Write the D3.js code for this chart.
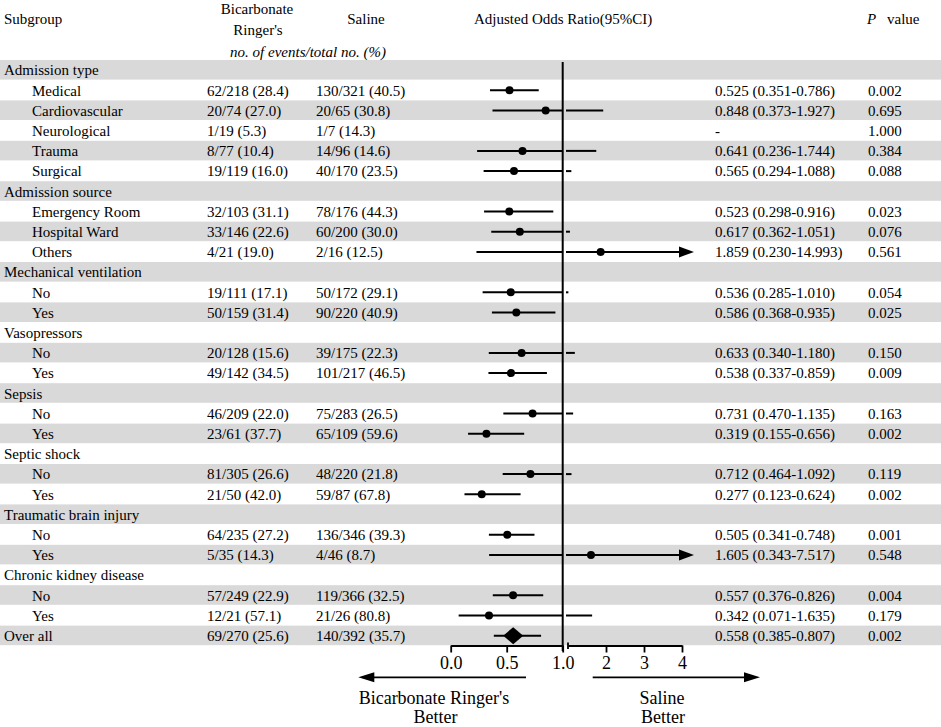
<!DOCTYPE html>
<html>
<head>
<meta charset="utf-8">
<script src="https://cdn.jsdelivr.net/npm/d3@7"></script>
<style>
  body { margin: 0; background: #fff; }
  svg text { font-family: "Liberation Serif", "Times New Roman", serif; fill: #000; }
</style>
</head>
<body>
<div id="chart"></div>
<script>
// rows of the forest plot, top to bottom
var subgroups = ["Admission type","Medical","Cardiovascular","Neurological","Trauma","Surgical",
  "Admission source","Emergency Room","Hospital Ward","Others",
  "Mechanical ventilation","No","Yes",
  "Vasopressors","No","Yes",
  "Sepsis","No","Yes",
  "Septic shock","No","Yes",
  "Traumatic brain injury","No","Yes",
  "Chronic kidney disease","No","Yes",
  "Over all"];
var isGroup = [1,0,0,0,0,0, 1,0,0,0, 1,0,0, 1,0,0, 1,0,0, 1,0,0, 1,0,0, 1,0,0, 1];
var ringerCounts = ["","62/218 (28.4)","20/74 (27.0)","1/19 (5.3)","8/77 (10.4)","19/119 (16.0)",
  "","32/103 (31.1)","33/146 (22.6)","4/21 (19.0)",
  "","19/111 (17.1)","50/159 (31.4)",
  "","20/128 (15.6)","49/142 (34.5)",
  "","46/209 (22.0)","23/61 (37.7)",
  "","81/305 (26.6)","21/50 (42.0)",
  "","64/235 (27.2)","5/35 (14.3)",
  "","57/249 (22.9)","12/21 (57.1)",
  "69/270 (25.6)"];
var salineCounts = ["","130/321 (40.5)","20/65 (30.8)","1/7 (14.3)","14/96 (14.6)","40/170 (23.5)",
  "","78/176 (44.3)","60/200 (30.0)","2/16 (12.5)",
  "","50/172 (29.1)","90/220 (40.9)",
  "","39/175 (22.3)","101/217 (46.5)",
  "","75/283 (26.5)","65/109 (59.6)",
  "","48/220 (21.8)","59/87 (67.8)",
  "","136/346 (39.3)","4/46 (8.7)",
  "","119/366 (32.5)","21/26 (80.8)",
  "140/392 (35.7)"];
var orEst = [null,0.525,0.848,null,0.641,0.565, null,0.523,0.617,1.859, null,0.536,0.586,
  null,0.633,0.538, null,0.731,0.319, null,0.712,0.277, null,0.505,1.605, null,0.557,0.342, 0.558];
var orLow = [null,0.351,0.373,null,0.236,0.294, null,0.298,0.362,0.230, null,0.285,0.368,
  null,0.340,0.337, null,0.470,0.155, null,0.464,0.123, null,0.341,0.343, null,0.376,0.071, 0.385];
var orHigh = [null,0.786,1.927,null,1.744,1.088, null,0.916,1.051,14.993, null,1.010,0.935,
  null,1.180,0.859, null,1.135,0.656, null,1.092,0.624, null,0.748,7.517, null,0.826,1.635, 0.807];
var pValues = ["","0.002","0.695","1.000","0.384","0.088", "","0.023","0.076","0.561", "","0.054","0.025",
  "","0.150","0.009", "","0.163","0.002", "","0.119","0.002", "","0.001","0.548", "","0.004","0.179", "0.002"];
var lowTicks = [0, 0.5, 1];
var highTicks = [2, 3, 4];

var W = 941, H = 727;
var svg = d3.select("#chart").append("svg").attr("width", W).attr("height", H);

var n = subgroups.length;
var y = d3.scaleBand().domain(d3.range(n)).range([60, 60 + n * 20.2]).padding(0);
// broken x axis: 0-1 linear on the left, 1-4 compressed on the right
var xLo = d3.scaleLinear().domain([0, 1]).range([450.7, 562.7]);
var xHi = d3.scaleLinear().domain([1, 4]).range([568, 682]);
var arrowX = 694;
var cy = function(i){ return y(i) + y.bandwidth() / 2; };

// grey stripes on odd rows
svg.append("g").selectAll("rect").data(d3.range(n).filter(function(i){ return i % 2 == 0; }))
  .enter().append("rect")
  .attr("x", 0).attr("width", W)
  .attr("y", function(i){ return y(i); })
  .attr("height", y.bandwidth() - 0.6)
  .attr("fill", "#d9d9d9");

// header
var head = svg.append("g").style("font-size", "15px");
head.append("text").attr("x", 4).attr("y", 19).attr("dy", "0.35em").text("Subgroup");
head.append("text").attr("x", 257).attr("y", 8.5).attr("dy", "0.35em").attr("text-anchor", "middle").text("Bicarbonate");
head.append("text").attr("x", 258).attr("y", 30).attr("dy", "0.35em").attr("text-anchor", "middle").text("Ringer's");
head.append("text").attr("x", 366).attr("y", 19).attr("dy", "0.35em").attr("text-anchor", "middle").text("Saline");
head.append("text").attr("x", 308).attr("y", 52).attr("dy", "0.35em").attr("text-anchor", "middle")
  .style("font-style", "italic").text("no. of events/total no. (%)");
head.append("text").attr("x", 474).attr("y", 19).attr("dy", "0.35em").text("Adjusted Odds Ratio(95%CI)");
var pv = head.append("text").attr("x", 867).attr("y", 19).attr("dy", "0.35em");
pv.append("tspan").style("font-style", "italic").text("P");
pv.append("tspan").attr("x", 887).text("value");

// table columns
var rows = svg.append("g").style("font-size", "15px").selectAll("g").data(d3.range(n)).enter().append("g")
  .attr("transform", function(i){ return "translate(0," + cy(i) + ")"; });
rows.append("text").attr("x", function(i){ return isGroup[i] ? 4 : 32; }).attr("dy", "0.35em")
  .text(function(i){ return subgroups[i]; });
rows.append("text").attr("x", 207).attr("dy", "0.35em").text(function(i){ return ringerCounts[i]; });
rows.append("text").attr("x", 316).attr("dy", "0.35em").text(function(i){ return salineCounts[i]; });
var f3 = d3.format(".3f");
rows.append("text").attr("x", 715).attr("dy", "0.35em").text(function(i){
  if (isGroup[i] && i != n - 1) return "";
  if (orEst[i] == null) return "-";
  return f3(orEst[i]) + " (" + f3(orLow[i]) + "-" + f3(orHigh[i]) + ")";
});
rows.append("text").attr("x", 868).attr("dy", "0.35em").text(function(i){ return pValues[i]; });

// confidence intervals
var plot = svg.append("g");
var ciRows = d3.range(n).filter(function(i){ return orEst[i] != null; });
ciRows.forEach(function(i){
  var yy = cy(i);
  var lo = orLow[i], hi = orHigh[i];
  if (lo < 1) {
    plot.append("line").attr("x1", xLo(lo)).attr("x2", hi < 1 ? xLo(hi) : xLo(1))
      .attr("y1", yy).attr("y2", yy).attr("stroke", "#000").attr("stroke-width", 2);
  }
  if (hi > 1) {
    var x2 = hi > 4 ? arrowX - 14 : xHi(hi);
    plot.append("line").attr("x1", lo > 1 ? xHi(lo) : xHi(1) - 2).attr("x2", x2)
      .attr("y1", yy).attr("y2", yy).attr("stroke", "#000").attr("stroke-width", 2);
    if (hi > 4) {
      plot.append("path").attr("d", "M" + arrowX + "," + yy + "L" + (arrowX - 15) + "," + (yy - 5.5) +
        "L" + (arrowX - 15) + "," + (yy + 5.5) + "Z").attr("fill", "#000");
    }
  }
  var xe = orEst[i] < 1 ? xLo(orEst[i]) : xHi(orEst[i]);
  if (i == n - 1) {
    plot.append("path").attr("d", "M" + (xe - 10) + "," + yy + "L" + xe + "," + (yy - 8.5) +
      "L" + (xe + 10) + "," + yy + "L" + xe + "," + (yy + 8.5) + "Z").attr("fill", "#000");
  } else {
    plot.append("circle").attr("cx", xe).attr("cy", yy).attr("r", 4).attr("fill", "#000");
  }
});

// reference line at OR = 1
svg.append("line").attr("x1", xLo(1)).attr("x2", xLo(1)).attr("y1", 62).attr("y2", 651)
  .attr("stroke", "#000").attr("stroke-width", 2);

// axes
var axisY = 645.5;
var axLo = svg.append("g").attr("transform", "translate(0," + axisY + ")")
  .call(d3.axisBottom(xLo).tickValues(lowTicks).tickFormat(d3.format(".1f")).tickSize(7).tickSizeOuter(0).tickPadding(4));
var axHi = svg.append("g").attr("transform", "translate(0," + axisY + ")")
  .call(d3.axisBottom(xHi).tickValues(highTicks).tickFormat(d3.format("d")).tickSize(7).tickSizeOuter(0).tickPadding(4));
[axLo, axHi].forEach(function(a){
  a.selectAll("path,line").attr("stroke", "#000").attr("stroke-width", 1.8);
  a.selectAll("text").style("font-family", "Liberation Serif").style("font-size", "18px").attr("fill", "#000");
});
svg.append("line").attr("x1", xHi(1)).attr("x2", xHi(1)).attr("y1", axisY - 3).attr("y2", axisY + 3.5)
  .attr("stroke", "#000").attr("stroke-width", 1.8);

// direction arrows
var arrY = 677.3;
function arrow(x1, x2){
  var dir = x2 > x1 ? 1 : -1;
  svg.append("line").attr("x1", x1).attr("x2", x2 - dir * 14).attr("y1", arrY).attr("y2", arrY)
    .attr("stroke", "#000").attr("stroke-width", 1.8);
  svg.append("path").attr("d", "M" + x2 + "," + arrY + "L" + (x2 - dir * 16) + "," + (arrY - 5) +
    "L" + (x2 - dir * 16) + "," + (arrY + 5) + "Z").attr("fill", "#000");
}
arrow(526, 358.3);
arrow(592.7, 760);
var foot = svg.append("g").style("font-size", "18px").attr("text-anchor", "middle");
foot.append("text").attr("x", 434).attr("y", 698).attr("dy", "0.35em").text("Bicarbonate Ringer's");
foot.append("text").attr("x", 435.5).attr("y", 717).attr("dy", "0.35em").text("Better");
foot.append("text").attr("x", 662).attr("y", 698).attr("dy", "0.35em").text("Saline");
foot.append("text").attr("x", 663).attr("y", 717).attr("dy", "0.35em").text("Better");
</script>
</body>
</html>
